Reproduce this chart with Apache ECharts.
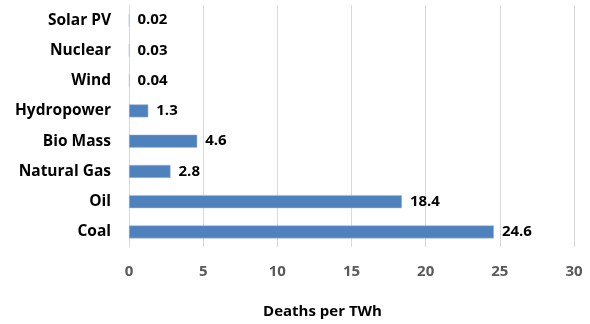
<!DOCTYPE html>
<html><head><meta charset="utf-8">
<script src="https://cdn.jsdelivr.net/npm/echarts@6/dist/echarts.min.js"></script>
<style>html,body{margin:0;padding:0;background:#fff}#c{width:590px;height:324px}</style>
</head><body><div id="c"></div>
<script>
const categories = ['Solar PV','Nuclear','Wind','Hydropower','Bio Mass','Natural Gas','Oil','Coal'];
const values = [0.02,0.03,0.04,1.3,4.6,2.8,18.4,24.6];
const xTicks = [0,5,10,15,20,25,30];
const axisTitle = 'Deaths per TWh';
const font = '"Open Sans", "Liberation Sans", sans-serif';
const chart = echarts.init(document.getElementById('c'));
chart.setOption({
  animation:false,
  grid:{left:129,right:16,top:5,bottom:74},
  xAxis:{type:'value',min:xTicks[0],max:xTicks[xTicks.length-1],interval:5,
    name:axisTitle,nameLocation:'middle',nameGap:57,
    nameTextStyle:{fontFamily:font,fontWeight:'bold',fontSize:15,color:'#000',padding:[0,58,0,0]},
    axisLine:{show:false},axisTick:{show:false},
    axisLabel:{fontFamily:font,fontWeight:'bold',fontSize:15,color:'#595959',margin:17},
    splitLine:{show:true,lineStyle:{color:'#d9d9d9',width:1}}},
  yAxis:{type:'category',data:categories,inverse:true,
    axisLine:{show:true,lineStyle:{color:'#d9d9d9'}},axisTick:{show:false},
    axisLabel:{fontFamily:font,fontWeight:'bold',fontSize:15.5,color:'#000',margin:18}},
  series:[{type:'bar',data:values,barWidth:13,
    itemStyle:{color:'#4f81bd',borderColor:'#a7bfde',borderWidth:0.5},
    label:{show:true,position:'right',distance:8,fontFamily:font,fontWeight:'bold',fontSize:15,color:'#000',
      formatter:p=>String(p.value)}}]
});
</script></body></html>
